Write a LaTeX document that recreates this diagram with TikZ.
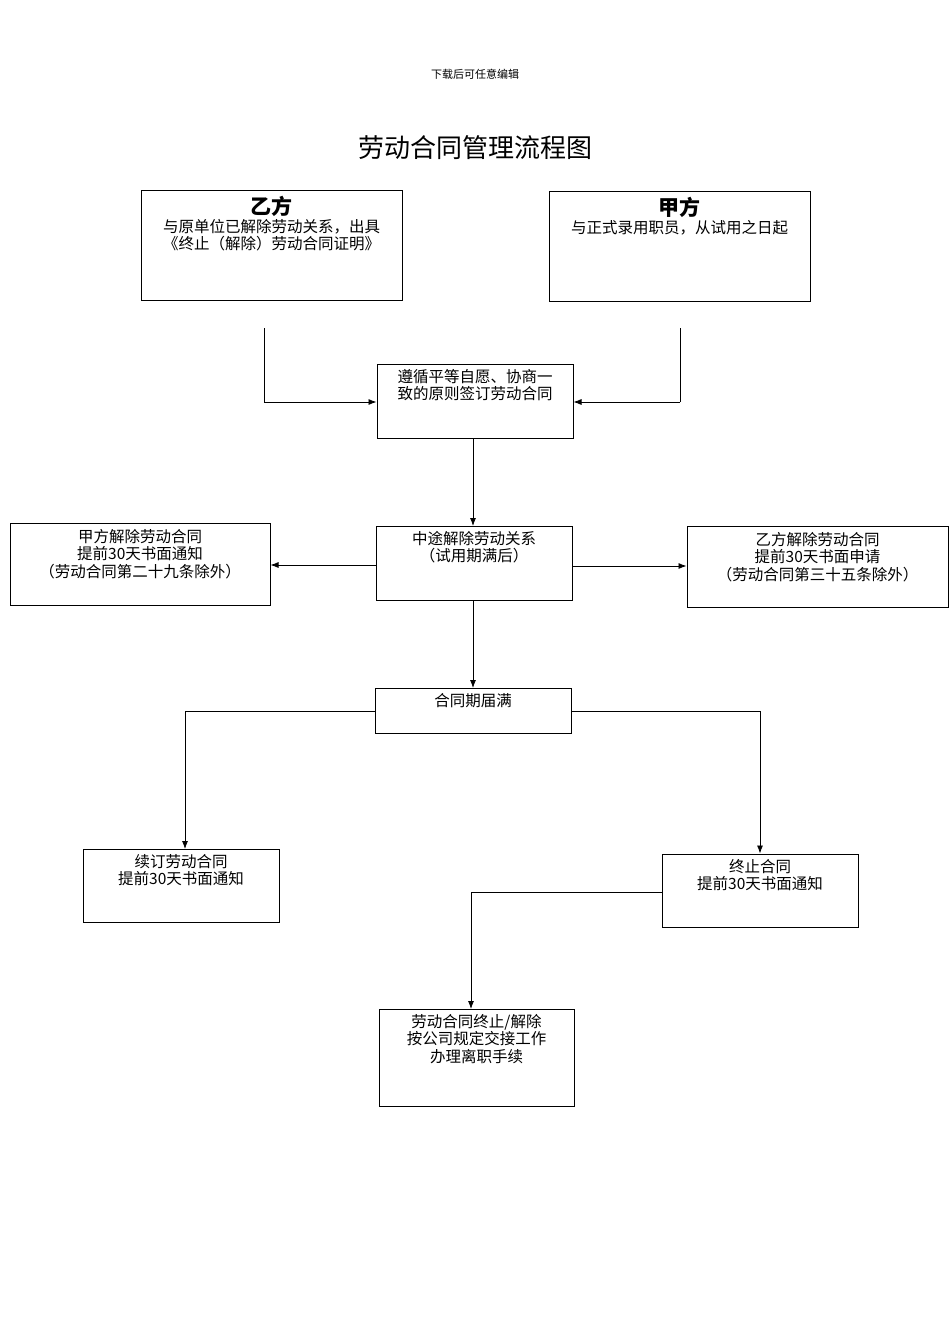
\documentclass[tikz,border=0pt]{standalone}
\usepackage{fontspec}
\newfontfamily\cjk{Noto Sans CJK SC}
\usetikzlibrary{arrows.meta}
\begin{document}
\begin{tikzpicture}[x=1pt,y=-1pt,
  box/.style={draw,line width=1pt,inner sep=0pt},
  txt/.style={font=\cjk\fontsize{15.5}{17.5}\selectfont,align=center,inner sep=0pt,anchor=north},
  arr/.style={line width=0.8pt,-{Latex[length=8pt,width=6pt]}},
  ln/.style={line width=0.8pt}]
\useasboundingbox (0,0) rectangle (950,1344);
\node[font=\cjk\fontsize{11}{12}\selectfont] (hd) at (475,74) {下载后可任意编辑};
\node[font=\cjk\fontsize{26}{28}\selectfont] (tt) at (475,148) {劳动合同管理流程图};
% boxes
\node[box,minimum width=261,minimum height=110] (yi) at (271.5,245) {};
\node[box,minimum width=261,minimum height=110] (jia) at (679.5,246) {};
\node[box,minimum width=196,minimum height=74] (sign) at (475,401) {};
\node[box,minimum width=196,minimum height=74] (mid) at (474,563) {};
\node[box,minimum width=260,minimum height=82] (left) at (140,564) {};
\node[box,minimum width=261,minimum height=81] (right) at (817.5,566.5) {};
\node[box,minimum width=196,minimum height=45] (exp) at (473,710.5) {};
\node[box,minimum width=196,minimum height=73] (renew) at (181,885.5) {};
\node[box,minimum width=196,minimum height=73] (term) at (760,890.5) {};
\node[box,minimum width=195,minimum height=97] (fin) at (476.5,1057.5) {};
% texts
\node[txt] (tyi) at (271.5,196) {{\fontsize{21}{22}\selectfont\bfseries 乙方}\\与原单位已解除劳动关系，出具\\《终止（解除）劳动合同证明》};
\node[txt] (tjia) at (679.5,197) {{\fontsize{21}{22}\selectfont\bfseries 甲方}\\与正式录用职员，从试用之日起};
\node[txt] (tsign) at (475,369) {遵循平等自愿、协商一\\致的原则签订劳动合同};
\node[txt] (tmid) at (474,531) {中途解除劳动关系\\（试用期满后）};
\node[txt] (tleft) at (140,529) {甲方解除劳动合同\\提前30天书面通知\\（劳动合同第二十九条除外）};
\node[txt] (tright) at (817.5,532) {乙方解除劳动合同\\提前30天书面申请\\（劳动合同第三十五条除外）};
\node[txt] (texp) at (473,693) {合同期届满};
\node[txt] (trenew) at (181,854) {续订劳动合同\\提前30天书面通知};
\node[txt] (tterm) at (760,859) {终止合同\\提前30天书面通知};
\node[txt] (tfin) at (476.5,1014) {劳动合同终止/解除\\按公司规定交接工作\\办理离职手续};
% connectors
\coordinate (a1) at (264,328);
\coordinate (a2) at (680,328);
\draw[ln] (a1) -- (264,402);
\draw[arr] (264,402) -- (sign.west |- 0,402);
\draw[ln] (a2) -- (680,402);
\draw[arr] (680,402) -- (sign.east |- 0,402);
\draw[arr] (473,438) -- (473,526);
\draw[arr] (mid.west |- 0,565) -- (left.east |- 0,565);
\draw[arr] (mid.east |- 0,566) -- (right.west |- 0,566);
\draw[arr] (473,600) -- (473,688);
\draw[ln] (exp.west |- 0,711) -- (185,711);
\draw[arr] (185,711) -- (185,849);
\draw[ln] (exp.east |- 0,711) -- (760,711);
\draw[arr] (760,711) -- (term.north);
\draw[ln] (term.west |- 0,892) -- (471,892);
\draw[arr] (471,892) -- (471,1009);
\end{tikzpicture}
\end{document}
